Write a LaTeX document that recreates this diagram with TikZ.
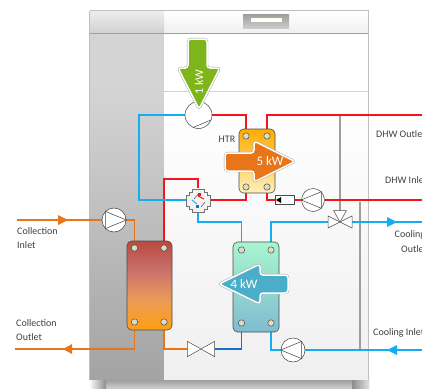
\documentclass[tikz,border=0pt]{standalone}
\usepackage{fontspec}
\setmainfont{Carlito}
\usetikzlibrary{arrows.meta,shapes.geometric}
\pgfdeclarelayer{cab}\pgfdeclarelayer{conn}
\pgfsetlayers{cab,conn,main}
\definecolor{cred}{HTML}{F5141E}
\definecolor{cblue}{HTML}{12AEEF}
\definecolor{cdblue}{HTML}{1A70C8}
\definecolor{corange}{HTML}{E8751A}
\definecolor{txt}{HTML}{404040}
\definecolor{htop}{HTML}{FFAC00}
\definecolor{hmid}{HTML}{FFBC30}
\definecolor{hbot}{HTML}{FFF0BC}
\definecolor{ctop}{HTML}{B84A40}
\definecolor{cone}{HTML}{CA736C}
\definecolor{ctwo}{HTML}{EC9A58}
\definecolor{cbot}{HTML}{FFA010}
\definecolor{ktop}{HTML}{A8F5D0}
\definecolor{kbot}{HTML}{80BCD0}
\definecolor{gfill}{HTML}{7DB51A}
\definecolor{bfill}{HTML}{4AAEC8}
\definecolor{pfill}{HTML}{DCDCC4}
\pgfdeclareverticalshading{colhx}{100bp}{color(0bp)=(cbot); color(25bp)=(cbot); color(42bp)=(ctwo); color(58bp)=(cone); color(75bp)=(ctop); color(100bp)=(ctop)}
\tikzset{
 redl/.style={draw=cred,line width=1.9pt},
 bluel/.style={draw=cblue,line width=1.9pt},
 dbluel/.style={draw=cdblue,line width=1.9pt},
 orl/.style={draw=corange,line width=1.9pt},
 port/.style={circle,draw=black!70,line width=.5pt,fill=pfill,minimum size=6.4pt,inner sep=0pt},
 pumpc/.style={circle,draw=black!75,line width=.5pt,fill=white,minimum size=24pt,inner sep=0pt},
 hx/.style={draw=black!70,line width=.6pt,rounded corners=4.5pt},
 valve/.style={minimum width=27pt,minimum height=15pt,inner sep=0pt},
 valvel/.style={draw=black!70,line width=.5pt,fill=white},
 lab/.style={text=txt,font=\fontsize{10}{14}\selectfont,inner sep=0pt},
 big/.style={draw=white,line width=1.5pt,rounded corners=3pt,preaction={draw=black!35,line width=2.4pt}},
 kw/.style={text=white,font=\fontsize{13}{14}\selectfont,inner sep=0pt}
}
\begin{document}
\begin{tikzpicture}[x=1pt,y=-1pt]
\useasboundingbox (0,0) rectangle (422,388);
\clip (0,0) rectangle (422,388);
\begin{pgfonlayer}{cab}
 \fill[white] (0,0) rectangle (422,388);
 \shade[top color=white,bottom color=black!6] (90,11) rectangle (368,33);
 \shade[top color=black!7,bottom color=black!18] (90,11) rectangle (164,33);
 \fill[white] (164,34) rectangle (368,380);
 \fill[black!17] (90,34) rectangle (164,91);
 \shade[top color=black!17,bottom color=black!36] (90,91) rectangle (164,380);
 \shade[top color=white,bottom color=black!6] (164,92) rectangle (368,380);
 \fill[black!37] (89,33) rectangle (368,34.2);
 \fill[black!18] (89,90.6) rectangle (368,91.6);
 \draw[black!25,line width=.8pt] (89.5,10.5) -- (368.5,10.5) -- (368.5,380) (89.5,10.5) -- (89.5,380);
 \shade[top color=black!38,bottom color=black!20] (89,380) rectangle (369,388);
 \shade[left color=white,right color=black!45] (89,380) rectangle (106,388);
 \shade[left color=black!45,right color=black!12] (352,380) rectangle (369,388);
 \draw[black!38,line width=1.7pt] (340,115) -- (340,212);
 \draw[black!38,line width=1.4pt] (360,202) -- (360,350);
 \shade[top color=black!38,bottom color=black!20] (243,14) rectangle (289,28);
 \fill[white!94!yellow] (251,18) rectangle (282,22);
\end{pgfonlayer}

% heat exchangers
\path[hx,top color=htop,middle color=hmid,bottom color=hbot] (239,129) rectangle (275,193);
\path[hx,shading=colhx] (127,241) rectangle (172,330);
\path[hx,top color=ktop,bottom color=kbot] (233,242) rectangle (279,332);

% ports
\node[port] (h1) at (246,136) {};
\node[port] (h2) at (267,136) {};
\node[port] (h3) at (246,187) {};
\node[port] (h4) at (267,187) {};
\node[port] (c1) at (134.5,248) {};
\node[port] (c2) at (164,248) {};
\node[port] (c3) at (134.5,322) {};
\node[port] (c4) at (164,322) {};
\node[port] (k1) at (241.5,250) {};
\node[port] (k2) at (271,250) {};
\node[port] (k3) at (241.5,323) {};
\node[port] (k4) at (271,323) {};

% compressor and pumps
\node[circle,draw=black!75,line width=.5pt,fill=white,minimum size=27pt,inner sep=0pt] (comp) at (198.5,115) {};
\draw[black!75,line width=.5pt] (193,127.5) -- (211,120);
\node[pumpc,minimum size=23pt] (pdhw) at (313,200) {};
\draw[black!75,line width=.5pt] (pdhw.north east) -- (pdhw.west) -- (pdhw.south east) -- cycle;
\node[pumpc] (pcol) at (114,220) {};
\draw[black!75,line width=.5pt] (pcol.north west) -- (pcol.east) -- (pcol.south west) -- cycle;
\node[pumpc] (pcool) at (293,350) {};
\draw[black!75,line width=.5pt] (pcool.north east) -- (pcool.west) -- (pcool.south east) -- cycle;

% valves
\node[valve] (vexp) at (201,349) {};
\draw[valvel] (vexp.north west) -- (vexp.south east) -- (vexp.north east) -- (vexp.south west) -- cycle;
\node[valve,minimum width=24pt,minimum height=12pt] (v3) at (340,222) {};
\draw[valvel] (340,222) -- (328,216) -- (328,228) -- cycle;
\draw[valvel] (340,222) -- (352,216) -- (352,228) -- cycle;
\draw[valvel] (340,222) -- (333.5,210.5) -- (346.5,210.5) -- cycle;

% check valve
\node[draw=black!70,fill=white,line width=.5pt,minimum width=19pt,minimum height=9pt,inner sep=0pt] (chk) at (284.5,200) {};
\fill[black] (276,200) -- (281,197) -- (281,203) -- cycle;

% four-way valve
\node[minimum size=24pt,inner sep=0pt] (four) at (198,200) {};
\draw[black!55,line width=.6pt,fill=black!5] (192,189) -- (204,189) -- (204,192) -- (207,192) -- (207,195) -- (210,195) -- (210,206) -- (207,206) -- (207,209) -- (204,209) -- (204,212) -- (192,212) -- (192,209) -- (189,209) -- (189,206) -- (186,206) -- (186,195) -- (189,195) -- (189,192) -- (192,192) -- cycle;
\draw[cred,line width=.9pt] (198,196) -- (204,199);
\fill[cred] (198,193) rectangle (201,196);
\draw[cblue,line width=.9pt] (192,200) -- (197,204);
\fill[cdblue] (196,205) rectangle (199,208);
\draw[black!60,line width=.6pt] (194,199) -- (199,193) (201,207) -- (205,202);

% connectors
\coordinate (colin) at (17,220);
\coordinate (colout) at (15,349);
\coordinate (dhwo) at (422,115); \coordinate (dhwi) at (422,200);
\coordinate (coolo) at (422,222);
\coordinate (cooli) at (422,350);
\coordinate (bend) at (139,115);
\begin{pgfonlayer}{conn}
 \draw[redl] (comp.east) -| (h1.north);
 \draw[redl] (h2.north) |- (dhwo);
 \draw[redl] (four.east) -| (h3.south);
 \draw[redl] (h4.south) |- (chk.west);
 \draw[redl] (chk.east) -- (pdhw.west);
 \draw[redl] (pdhw.east) -- (dhwi);
 \draw[redl] (four.north) -- ++(0,-9) -| (c2.north);
 \draw[bluel] (comp.west) -- (bend) |- (four.west);
 \draw[bluel] (four.south) -- ++(0,10) -| (k1.north);
 \draw[bluel] (k2.north) |- (v3.west);
 \draw[bluel] (v3.east) -- (coolo);
 \draw[bluel] (k4.south) |- (pcool.west);
 \draw[bluel] (pcool.east) -- (cooli);
 \draw[dbluel] (vexp.east) -| (k3.south);
 \draw[orl] (colin) -- (pcol.west);
 \draw[orl] (pcol.east) -| (c1.north);
 \draw[orl] (c3.south) |- (colout);
 \draw[orl] (c4.south) |- (vexp.west);
\end{pgfonlayer}
\fill[corange] (58,215) -- (68,220) -- (58,225) -- cycle;
\fill[corange] (72,344) -- (63,349) -- (72,354) -- cycle;
\fill[cblue] (387,217) -- (397,222) -- (387,227) -- cycle;
\fill[cblue] (397,345) -- (387,350) -- (397,355) -- cycle;

% power arrows
\draw[big,fill=gfill] (188,39) -- (207,39) -- (207,68) -- (220,68) -- (199,109) -- (178,68) -- (188,68) -- cycle;
\node[kw,rotate=90,font=\fontsize{12}{12}\selectfont] (g) at (199,82) {1 kW};
\draw[big,fill=corange] (225,153) -- (254,153) -- (254,141) -- (295,161.5) -- (254,182) -- (254,171) -- (225,171) -- cycle;
\node[kw] (o) at (270,161.5) {5 kW};
\draw[big,fill=bfill] (288,275) -- (260,275) -- (260,264) -- (219,284) -- (260,304) -- (260,293) -- (288,293) -- cycle;
\node[kw] (b) at (244,284) {4 kW};

% labels
\node[lab] (t1) at (227,139) {HTR};
\node[lab,anchor=west,align=left] (t2) at (17,238) {Collection\\Inlet};
\node[lab,anchor=west,align=left] (t3) at (16,330) {Collection\\Outlet};
\node[lab,anchor=west] (t4) at (376,134) {DHW Outlet};
\node[lab,anchor=west] (t5) at (385,180) {DHW Inlet};
\node[lab,anchor=west] (t6) at (394.5,235) {Cooling};
\node[lab,anchor=west] (t7) at (401,249) {Outlet};
\node[lab,anchor=west] (t8) at (373,333) {Cooling Inlet};
\end{tikzpicture}
\end{document}
